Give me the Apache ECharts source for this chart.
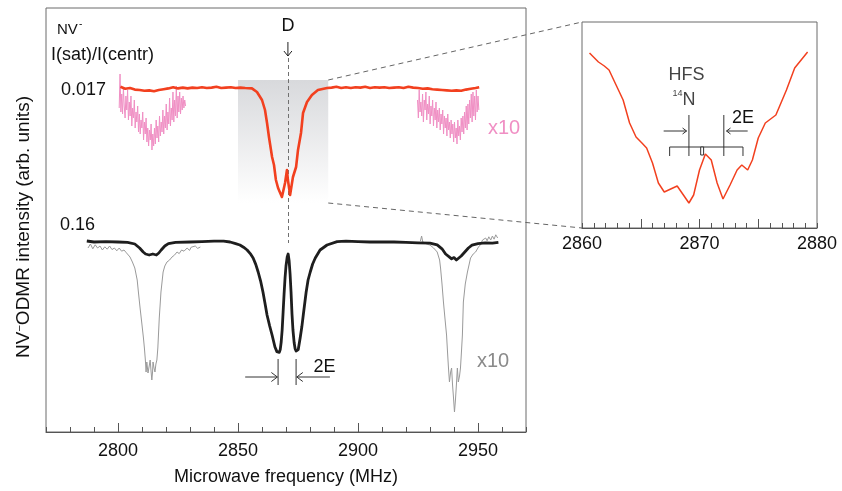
<!DOCTYPE html>
<html><head><meta charset="utf-8">
<script src="https://cdn.jsdelivr.net/npm/echarts@6/dist/echarts.min.js"></script>
<style>html,body{margin:0;padding:0;background:#fff}#c{width:842px;height:491px}</style>
</head><body><div id="c"></div>
<script>
// ---------- tick labels ----------
const mainMajorTicks = [2800, 2850, 2900, 2950];
const insetMajorTicks = [2865, 2870, 2875];
const insetLabelTicks = [2860, 2870, 2880];

// ---------- data: [frequency MHz, intensity arb. units] ----------
const redTrace = [[2801,86.3],[2803,85.8],[2805,86],[2807,85.6],[2809,85.5],[2811,85.3],[2813,85.4],[2815,85.2],[2817,85.5],[2819,85.7],[2821,85.9],[2823,86.2],[2825,85.9],[2827,86.1],[2829,85.9],[2831,86.1],[2833,86],[2835,86.2],[2837,86],[2839,86.1],[2841,86.3],[2843,86],[2845,86.1],[2847,86.2],[2849,86],[2851,86.1],[2853,86],
[2855.8,85.9],[2857.9,85],[2860,83],[2861.25,80.5],[2862.1,77.25],[2862.9,73.75],[2864.2,68.75],[2865,66.75],[2865.8,63],[2866.7,61],[2867.5,60.5],[2868.3,58.75],[2868.75,58.5],[2869.6,62.25],[2870.4,65.5],[2870.8,63],[2871.7,59.25],[2872.5,62.25],[2872.9,63.75],[2874.2,66.25],[2875,70.5],[2876.25,74.75],[2877.1,79.75],[2878.75,82.5],[2880.8,84.25],[2883.3,85.5],[2887.1,86],
[2889,86.1],[2891,86.3],[2893,86],[2895,86.2],[2897,86],[2899,86.2],[2901,86.1],[2903,86.3],[2905,86],[2907,86.2],[2909,86.1],[2911,86.2],[2913,86],[2915,86.1],[2917,86.2],[2919,86],[2921,86.3],[2923,86.1],[2925,86],[2927,85.8],[2929,85.9],[2931,85.7],[2933,85.6],[2935,85.5],[2937,85.4],[2939,85.3],[2941,85.4],[2943,85.3],[2945,85.6],[2947,85.8],[2949,86],[2950.5,86.2]];

// x10 satellite spectra (pink), sampled every 0.35 MHz from the start frequency
const pinkLeftStart = 2800.5, pinkLeftStep = 0.35;
const pinkLeftValues = [81,89.5,80,84.5,79.5,86,81.5,78.5,84,80.5,85.5,78,82.5,79,84,76.5,81,78.5,83,76,
80,77.5,81.5,75,79.5,74.5,78,76,80,73,77.5,74.5,78.5,72.5,76,71.5,75.5,73,77,70.5,
74.5,71.5,76,72,78,73.5,76.5,72.5,79,74,77.5,75,80.5,74.5,79,76,82,75.5,80,77,
83.5,76.5,81,78,85,77.5,83,79,86.5,78.5,84,80,85,79.5,83.5,80.5,84,81,83,81.5];
const pinkRightStart = 2924.8, pinkRightStep = 0.35;
const pinkRightValues = [83,78.5,85.5,80,82.5,79,84.5,77.5,83,80.5,85,78,82,79.5,84,77,81.5,79,83,76.5,
81,78,82.5,76,80.5,77.5,81,75.5,79.5,77,80.5,74.5,79,76,78.5,74,79.5,75.5,77.5,73.5,
78,74.5,77,72.5,77.5,73.5,76,72,78,74,76.5,73,78.5,75,79,74.5,80,76,81.5,75.5,
82,77,83,78.5,84.5,77.5,85,79,84,78,85.5,80,84,80.5];

const blackTrace = [[2787,47.75],[2790,47.5],[2795,47.6],[2800,47.5],[2804,47.4],[2807,47],[2809,46],[2810.5,45],[2811.5,44.5],[2813,44.25],[2814.5,44.5],[2816,44.25],[2817,44.75],[2818,45.5],[2819.5,46.5],[2821,47.1],[2824,47.4],[2830,47.5],[2835,47.6],[2840,47.7],[2844,47.7],
[2846.7,47.5],[2849,47.1],[2850.8,46.75],[2852.3,46.2],[2853.8,45.5],[2855.1,44.6],[2856.3,43.5],[2857.4,41.9],[2858.4,40],[2859.4,37.8],[2860.4,35],[2861.3,32],[2862.1,29.25],[2863.2,26.5],[2864.2,24.25],[2865.4,21.25],[2866.2,20.1],[2866.7,19.75],[2867.2,19.9],[2867.6,20.6],[2868,22.5],[2868.4,25.5],[2868.8,30],[2869.2,34.5],[2869.6,38.5],[2870,41.5],[2870.5,43.75],[2870.9,44.5],[2871.3,42.8],[2871.7,39.5],[2872.1,35],[2872.5,29.5],[2872.9,25.5],[2873.4,22.3],[2873.8,20.8],[2874.2,20.25],[2874.7,20.2],[2875.1,20.6],[2875.9,23.5],[2876.6,26.3],[2877.2,29.25],[2878.4,35],[2879.2,38],[2880.1,40],[2881.1,42],[2882.2,43.5],[2884.2,45.5],[2887.1,46.75],[2891.3,47.6],
[2895,47.7],[2900,47.6],[2905,47.5],[2910,47.5],[2915,47.5],[2920,47.4],[2925,47.3],[2930,47.2],[2933,46.8],[2935,45.8],[2936.5,44.5],[2938,43.8],[2939,43.3],[2940,43.6],[2941,43],[2942,43.5],[2943,44],[2944.5,45],[2946,46],[2947.5,46.7],[2950,47.1],[2953,47.3],[2956,47.2],[2958.5,47.4]];

const grayLeft = [[2787.5,46],[2788.5,47],[2789.5,45.8],[2790.5,46.8],[2791.5,46],[2792.5,46.5],[2793.5,45.5],[2794.5,46.3],[2795.5,45.7],[2796.5,46.5],[2797.5,45.6],[2798.5,46],[2799.5,45.3],[2800.5,46],[2801.5,45.2],[2802.5,45.5],[2803.5,44.8],[2805,43.75],[2806,42.5],[2807,41],[2808,38],[2808.5,35],[2809.2,31],[2810,26.75],[2810.6,23.5],[2811,21],[2811.4,18],[2811.7,15],[2812,17.5],[2812.5,14.75],[2813,16.5],[2813.4,18],[2813.8,15],[2814.1,13],[2814.4,15],[2814.6,17.5],[2815,16],[2815.4,15],[2815.8,17],[2816.2,18],[2816.6,21],[2817.2,28.5],[2817.9,35],[2818.8,40],[2819.5,41.5],[2820.4,42.5],[2821.5,43],[2822.5,43.75],[2823.5,44.2],[2824.6,45],[2825.5,44.6],[2826.5,45.5],[2827.5,45.2],[2828.8,46],[2829.8,45.4],[2830.5,46.2],[2831.3,45.75],[2832.2,46.5],[2833.2,45.9],[2834.3,46.25]];

const grayRight = [[2926,47.75],[2926.5,49],[2927,47.5],[2928,47.2],[2929,46.9],[2930,46.75],[2931.5,46],[2933,45],[2934,43],[2934.4,41],[2935,37],[2935.6,32.5],[2936.3,28],[2936.9,24.25],[2937.3,20],[2937.7,16],[2938.1,12.5],[2938.6,15],[2939,16],[2939.4,11.75],[2939.8,8.5],[2940.2,5],[2940.6,8],[2941,11.75],[2941.4,16],[2941.8,12.5],[2942.3,14],[2942.7,16],[2943.1,20],[2943.5,24.25],[2943.9,32.5],[2944.7,37],[2945.6,40],[2946.9,43.5],[2948,44.5],[2949,45],[2950.2,46.25],[2951,46.8],[2951.9,48],[2952.5,47.5],[2953.2,48.5],[2953.8,47.8],[2954.5,48.8],[2955.3,48],[2956,49],[2956.7,48.2],[2957.4,49.3],[2958.2,48.5]];

const insetTrace = [[2860.64,87.5],[2861.4,83],[2861.9,81],[2862.3,79],[2862.9,71.5],[2863.5,64],[2864.05,52.5],[2864.6,45.5],[2865.1,42.5],[2865.5,40],[2866.0,32.5],[2866.5,22.5],[2867.0,18],[2868.1,21],[2869.1,12.5],[2869.5,16.5],[2870.0,29],[2870.5,37],[2871.0,34],[2871.5,22.5],[2872.0,14.5],[2872.6,21.5],[2873.2,29],[2873.6,31.5],[2874.1,29],[2874.5,34],[2875.0,45],[2875.6,52.5],[2876.5,56.5],[2877.4,69],[2878.1,80],[2879.2,88]];

const sampled = (start, step, vals) => vals.map((v, i) => [+(start + i * step).toFixed(3), v]);
const pinkLeft = sampled(pinkLeftStart, pinkLeftStep, pinkLeftValues);
const pinkRight = sampled(pinkRightStart, pinkRightStep, pinkRightValues);

const FONT = '"Liberation Sans", Arial, sans-serif';
const AX = '#555';

const minorAxis = (grid, min, max, interval) => ({
  type: 'value', gridIndex: grid, min: min, max: max, interval: interval, position: 'bottom',
  axisLine: {show: false}, splitLine: {show: false},
  axisTick: {show: true, inside: true, length: 5, lineStyle: {color: AX, width: 1}},
  axisLabel: {show: false}
});

const option = {
  animation: false,
  backgroundColor: '#fff',
  grid: [
    {left: 46, top: 8, width: 480, height: 424, show: true, borderColor: '#6b6b6b', borderWidth: 1},
    {left: 582, top: 22, width: 235, height: 206, show: true, borderColor: '#6b6b6b', borderWidth: 1}
  ],
  xAxis: [
    {type: 'value', gridIndex: 0, min: 2770, max: 2970, position: 'bottom',
     axisLine: {show: true, lineStyle: {color: AX, width: 1}}, splitLine: {show: false},
     axisTick: {show: true, inside: true, length: 9, customValues: mainMajorTicks, lineStyle: {color: AX, width: 1}},
     axisLabel: {show: true, customValues: mainMajorTicks, formatter: v => String(v), color: '#111', fontSize: 18, fontFamily: FONT, margin: 10},
     name: 'Microwave frequency (MHz)', nameLocation: 'middle', nameGap: 36,
     nameTextStyle: {color: '#111', fontSize: 18, fontFamily: FONT}},
    minorAxis(0, 2770, 2970, 10),
    {type: 'value', gridIndex: 1, min: 2860, max: 2880, position: 'bottom',
     axisLine: {show: true, lineStyle: {color: AX, width: 1}}, splitLine: {show: false},
     axisTick: {show: true, inside: true, length: 9, customValues: insetMajorTicks, lineStyle: {color: AX, width: 1}},
     axisLabel: {show: true, customValues: insetLabelTicks, formatter: v => String(v), color: '#111', fontSize: 18, fontFamily: FONT, margin: 7}},
    minorAxis(1, 2860, 2880, 1)
  ],
  yAxis: [
    {type: 'value', gridIndex: 0, min: 0, max: 106, show: false},
    {type: 'value', gridIndex: 1, min: 0, max: 103, show: false}
  ],
  series: [
    {type: 'line', xAxisIndex: 0, yAxisIndex: 0, data: [], z: 1, silent: true,
     markArea: {silent: true, label: {show: false},
       itemStyle: {opacity: 1, color: new echarts.graphic.LinearGradient(0, 0, 0, 1, [{offset: 0, color: '#d8d9dc'}, {offset: 1, color: '#ffffff'}])},
       data: [[{coord: [2850, 88]}, {coord: [2887.6, 57.25]}]]}},
    {type: 'line', xAxisIndex: 0, yAxisIndex: 0, data: pinkLeft, showSymbol: false, z: 3, lineStyle: {color: '#f08fc4', width: 1}},
    {type: 'line', xAxisIndex: 0, yAxisIndex: 0, data: pinkRight, showSymbol: false, z: 3, lineStyle: {color: '#f08fc4', width: 1}},
    {type: 'line', xAxisIndex: 0, yAxisIndex: 0, data: grayLeft, showSymbol: false, z: 3, lineStyle: {color: '#9a9a9a', width: 1}},
    {type: 'line', xAxisIndex: 0, yAxisIndex: 0, data: grayRight, showSymbol: false, z: 3, lineStyle: {color: '#9a9a9a', width: 1}},
    {type: 'line', xAxisIndex: 0, yAxisIndex: 0, data: blackTrace, showSymbol: false, z: 4, lineStyle: {color: '#1e1e1e', width: 2.8, join: 'round'},
     markLine: {silent: true, symbol: ['none', 'none'], label: {show: false},
       lineStyle: {type: [4, 3], color: '#707070', width: 1},
       data: [[{coord: [2870.8, 93.5]}, {coord: [2870.8, 47.25]}]]}},
    {type: 'line', xAxisIndex: 0, yAxisIndex: 0, data: redTrace, showSymbol: false, z: 5, lineStyle: {color: '#f2401f', width: 2.6, join: 'round'}},
    {type: 'line', xAxisIndex: 2, yAxisIndex: 1, data: insetTrace, showSymbol: false, z: 5, lineStyle: {color: '#f2401f', width: 1.5}}
  ]
};

const chart = echarts.init(document.getElementById('c'), null, {renderer: 'canvas'});
chart.setOption(option);

// ---------- annotations ----------
const m = (f, v) => chart.convertToPixel({xAxisIndex: 0, yAxisIndex: 0}, [f, v]);
const n = (f, v) => chart.convertToPixel({xAxisIndex: 2, yAxisIndex: 1}, [f, v]);
const G = [];
const seg = (a, b, st) => G.push({type: 'line', silent: true, z: 100,
  shape: {x1: a[0], y1: a[1], x2: b[0], y2: b[1]},
  style: Object.assign({stroke: '#333', lineWidth: 1}, st || {})});
const arrowH = (a, b, sz, col) => {
  seg(a, b, {stroke: col});
  const d = b[0] > a[0] ? -1 : 1;
  G.push({type: 'polyline', silent: true, z: 100,
    shape: {points: [[b[0] + d * sz, b[1] - sz * 0.75], [b[0], b[1]], [b[0] + d * sz, b[1] + sz * 0.75]]},
    style: {stroke: col, fill: null, lineWidth: 1}});
};
const txt = (x, y, t, size, col, align, extra) => G.push(Object.assign({type: 'text', x: x, y: y, silent: true, z: 100,
  style: {text: t, fill: col, fontSize: size, fontFamily: FONT, align: align || 'left', verticalAlign: 'middle'}}, extra || {}));

// connector dashed lines
seg(m(2887.6, 88), n(2860, 103), {stroke: '#666', lineDash: [5, 4]});
seg(m(2887.6, 57.25), n(2860, 0), {stroke: '#666', lineDash: [5, 4]});

// D marker
const dTop = m(2870.8, 97.5), dBot = m(2870.8, 94);
txt(dTop[0], m(2870.8, 101.5)[1], 'D', 18, '#111', 'center');
seg(dTop, dBot, {stroke: '#222'});
G.push({type: 'polyline', silent: true, z: 100, shape: {points: [[dBot[0] - 4, dBot[1] - 5], dBot, [dBot[0] + 4, dBot[1] - 5]]}, style: {stroke: '#222', fill: null, lineWidth: 1}});

// main 2E marker
seg(m(2866.7, 18.25), m(2866.7, 11.75), {stroke: '#333'});
seg(m(2874.2, 18.25), m(2874.2, 11.75), {stroke: '#333'});
arrowH(m(2853, 13.75), m(2866.4, 13.75), 6, '#333');
arrowH(m(2888.3, 13.75), m(2874.5, 13.75), 6, '#333');
const t2E = m(2886, 16.25);
txt(t2E[0], t2E[1], '2E', 18, '#111', 'center');

// inset HFS marker
const ic = '#333';
seg(n(2867.46, 40.5), n(2873.7, 40.5), {stroke: ic});
seg(n(2867.46, 40.5), n(2867.46, 36), {stroke: ic});
seg(n(2873.7, 40.5), n(2873.7, 36), {stroke: ic});
seg(n(2869.1, 56.5), n(2869.1, 36), {stroke: ic});
seg(n(2872.07, 56.5), n(2872.07, 36), {stroke: ic});
const r1 = n(2870.1, 40.5), r2 = n(2870.35, 36.5);
G.push({type: 'rect', silent: true, z: 100, shape: {x: r1[0], y: r1[1], width: r2[0] - r1[0], height: r2[1] - r1[1]}, style: {stroke: ic, fill: '#fff', lineWidth: 1}});
arrowH(n(2866.95, 48.5), n(2868.9, 48.5), 4, ic);
arrowH(n(2874.1, 48.5), n(2872.3, 48.5), 4, ic);
const hfs = n(2868.9, 76.5);
txt(hfs[0], hfs[1], 'HFS', 18, '#444', 'center');
const nN = n(2868.55, 64);
txt(nN[0], nN[1], 'N', 18, '#444', 'left');
txt(nN[0], nN[1] - 6, '14', 9, '#444', 'right');
const i2E = n(2873.7, 55);
txt(i2E[0], i2E[1], '2E', 18, '#111', 'center');

// static labels
txt(57, 30, 'NV', 15, '#111', 'left');
txt(79, 24, '-', 10, '#111', 'left');
txt(51, 55, 'I(sat)/I(centr)', 18, '#111', 'left');
txt(61, 90, '0.017', 18, '#111', 'left');
txt(60, 225, '0.16', 18, '#111', 'left');
txt(488, 128, 'x10', 20, '#f08fc4', 'left');
txt(477, 361, 'x10', 20, '#8a8a8a', 'left');
G.push({type: 'text', x: 24, y: 227, rotation: Math.PI / 2, silent: true, z: 100,
  style: {text: '{a|NV}{s|−}{a|ODMR intensity (arb. units)}', align: 'center', verticalAlign: 'middle',
    rich: {a: {fontSize: 19, fontFamily: FONT, fill: '#111', color: '#111', lineHeight: 20},
           s: {fontSize: 11, fontFamily: FONT, fill: '#111', color: '#111', verticalAlign: 'top', lineHeight: 20}}}});

chart.setOption({graphic: G});
</script>
</body></html>
